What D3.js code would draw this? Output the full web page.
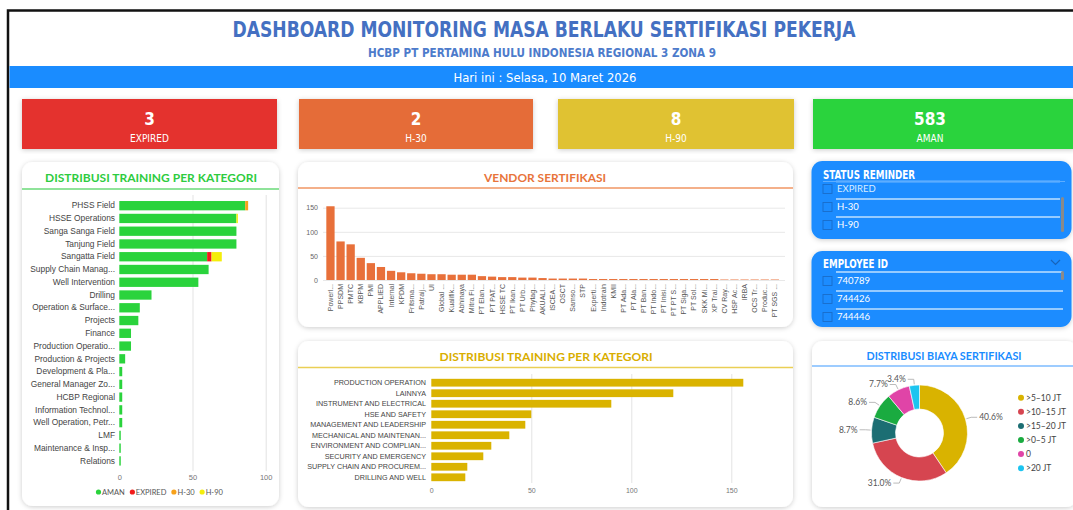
<!DOCTYPE html>
<html>
<head>
<meta charset="utf-8">
<script src="https://cdn.jsdelivr.net/npm/d3@7"></script>
<style>
  body { margin: 0; background: #fff; }
  svg { display: block; font-family: "Lato", "Open Sans", sans-serif; }
</style>
</head>
<body>
<svg id="dash" width="1073" height="510"></svg>
<script>
const W = 1073, H = 510;

// ---- data ----
const kpiLabels = ["EXPIRED", "H-30", "H-90", "AMAN"];
const kpiValues = [3, 2, 8, 583];
const kpiColors = ["#E4332F", "#E56C37", "#E0C233", "#2AD33C"];

const unitNames = ["PHSS Field", "HSSE Operations", "Sanga Sanga Field", "Tanjung Field", "Sangatta Field",
  "Supply Chain Manag...", "Well Intervention", "Drilling", "Operation & Surface...", "Projects", "Finance",
  "Production Operatio...", "Production & Projects", "Development & Pla...", "General Manager Zo...",
  "HCBP Regional", "Information Technol...", "Well Operation, Petr...", "LMF", "Maintenance & Insp...", "Relations"];
const unitAman    = [86, 80, 80, 80, 60, 61, 54, 22, 14, 13, 8, 8, 4, 2, 2, 2, 2, 2, 1, 1, 1];
const unitExpired = [0, 0, 0, 0, 3, 0, 0, 0, 0, 0, 0, 0, 0, 0, 0, 0, 0, 0, 0, 0, 0];
const unitH30     = [2, 0, 0, 0, 0, 0, 0, 0, 0, 0, 0, 0, 0, 0, 0, 0, 0, 0, 0, 0, 0];
const unitH90     = [0, 1, 0, 0, 7, 0, 0, 0, 0, 0, 0, 0, 0, 0, 0, 0, 0, 0, 0, 0, 0];
const statusKeys = ["AMAN", "EXPIRED", "H-30", "H-90"];
const statusColors = ["#2AD33C", "#F21B1B", "#F7A11A", "#F4EE0A"];

const vendorNames = ["Powerl...", "PPSDM", "PMTC", "KBPM", "PMI", "APPLIED", "Internal", "KPDM", "Fritsma...",
  "Patraij...", "UI", "Global ...", "Kualifik...", "Abhinaya", "Mitra Fi...", "PT Elan...", "PT PAT...", "HSSE TC",
  "PT Ikan...", "PT Urb...", "Phytag...", "AKUALI...", "ISCEA...", "OSCT", "Samso...", "STP", "Experti...",
  "Indotrain", "KMII", "PT Ada...", "PT Ala...", "PT Ban...", "PT Indo...", "PT Inisi...", "PT PT S...",
  "PT Siga...", "PT Sol...", "SKK Mi...", "XP Trai...", "CV Ray...", "HSP Ac...", "IRBA", "OCS Tr...",
  "Produc...", "PT SGS ..."];
const vendorCounts = [153, 80, 74, 46, 35, 27, 19, 16, 14, 13, 12, 12, 11, 11, 11, 8, 7, 6, 6, 5, 5,
  4, 3, 3, 3, 3, 2, 2, 2, 2, 2, 2, 2, 2, 2, 2, 2, 2, 2, 1, 1, 1, 1, 1, 1];

const trainingCategories = ["PRODUCTION OPERATION", "LAINNYA", "INSTRUMENT AND ELECTRICAL", "HSE AND SAFETY",
  "MANAGEMENT AND LEADERSHIP", "MECHANICAL AND MAINTENAN...", "ENVIRONMENT AND COMPLIAN...",
  "SECURITY AND EMERGENCY", "SUPPLY CHAIN AND PROCUREM...", "DRILLING AND WELL"];
const trainingCounts = [156, 121, 90, 50, 47, 39, 30, 26, 18, 17];

const costBands = [">5–10 JT", ">10–15 JT", ">15–20 JT", ">0–5 JT", "0", ">20 JT"];
const costShares = [40.6, 31.0, 8.7, 8.6, 7.7, 3.4];
const costColors = ["#D9B300", "#D64550", "#1C6E73", "#1AAB40", "#E044A7", "#1CC4F0"];

const reminderItems = ["EXPIRED", "H-30", "H-90"];
const employeeIds = ["740789", "744426", "744446"];

const condensed = "'Liberation Sans Narrow', 'DejaVu Sans Condensed', 'Roboto', sans-serif";

const svg = d3.select("#dash");
const defs = svg.append("defs");
const shadow = defs.append("filter").attr("id", "shadow")
  .attr("x", "-10%").attr("y", "-10%").attr("width", "120%").attr("height", "120%");
shadow.append("feDropShadow").attr("dx", 0).attr("dy", 1).attr("stdDeviation", 2.5)
  .attr("flood-color", "#000").attr("flood-opacity", 0.2);

function txt(parent, x, y, s, o) {
  const t = parent.append("text").attr("x", x).attr("y", y).attr("dy", "0.35em").text(s)
    .attr("text-anchor", o.anchor || "middle")
    .attr("fill", o.color || "#333")
    .style("font-size", o.size + "px")
    .style("font-weight", o.weight || "normal");
  if (o.family) t.style("font-family", o.family);
  if (o.len) t.attr("textLength", o.len).attr("lengthAdjust", "spacingAndGlyphs");
  return t;
}

function card(x, y, w, h, fill) {
  return svg.append("rect").attr("x", x).attr("y", y).attr("width", w).attr("height", h)
    .attr("rx", 11).attr("fill", fill || "#fff").attr("filter", "url(#shadow)");
}

// frame + header
svg.append("rect").attr("x", 8).attr("y", 10.5).attr("width", W).attr("height", H)
  .attr("fill", "#fff").attr("stroke", "#111").attr("stroke-width", 2.5);
txt(svg, 544, 30, "DASHBOARD MONITORING MASA BERLAKU SERTIFIKASI PEKERJA",
  { size: 21, weight: "bold", color: "#4470C2", family: condensed, len: 623 });
txt(svg, 542, 53, "HCBP PT PERTAMINA HULU INDONESIA REGIONAL 3 ZONA 9",
  { size: 12, weight: "bold", color: "#4D7BCB", family: condensed, len: 348 });
svg.append("rect").attr("x", 9.5).attr("y", 66).attr("width", W).attr("height", 22).attr("fill", "#1A8CFF");
txt(svg, 545, 77, "Hari ini : Selasa, 10 Maret 2026",
  { size: 13, color: "#fff", family: condensed, len: 183 });

// KPI cards
const kpiX = [22, 299, 558, 813], kpiW = [255, 234, 236, 262];
kpiLabels.forEach((lab, i) => {
  svg.append("rect").attr("x", kpiX[i]).attr("y", 99).attr("width", kpiW[i]).attr("height", 50)
    .attr("fill", kpiColors[i]).attr("filter", "url(#shadow)");
  const cx = kpiX[i] + (i === 3 ? 117 : kpiW[i] / 2);
  txt(svg, cx, 119, kpiValues[i], { size: 17, weight: "bold", color: "#fff", family: condensed });
  txt(svg, cx, 138, lab, { size: 10, color: "#fff", family: condensed });
});

// ---- left: training per unit (stacked) ----
card(22, 162, 257, 344);
txt(svg, 151, 178, "DISTRIBUSI TRAINING PER KATEGORI", { size: 12, weight: "bold", color: "#2ECC40", len: 212 });
svg.append("line").attr("x1", 22).attr("x2", 279).attr("y1", 189).attr("y2", 189)
  .attr("stroke", "#8FE39A").attr("stroke-width", 2);

const unitRows = unitNames.map((name, i) => ({
  name, "AMAN": unitAman[i], "EXPIRED": unitExpired[i], "H-30": unitH30[i], "H-90": unitH90[i]
}));
const unitStack = d3.stack().keys(statusKeys)(unitRows);
const ux = d3.scaleLinear().domain([0, 100]).range([119.3, 265.7]);
const uy = d3.scaleBand().domain(unitNames).range([199.3, 467.3]).paddingInner(0.27).paddingOuter(0.135);

const uGrid = svg.append("g").attr("transform", "translate(0,471)")
  .call(d3.axisBottom(ux).tickValues([0, 50, 100]).tickSize(-276).tickPadding(4));
uGrid.select(".domain").remove();
uGrid.selectAll("line").attr("stroke", d => d === 0 ? "none" : "#e3e3e3");
uGrid.selectAll("text").attr("fill", "#777").style("font-size", "7.5px");

svg.append("g").selectAll("g").data(unitStack).join("g")
  .attr("fill", (d, i) => statusColors[i])
  .selectAll("rect").data(d => d).join("rect")
  .attr("x", d => ux(d[0])).attr("width", d => ux(d[1]) - ux(d[0]))
  .attr("y", d => uy(d.data.name)).attr("height", uy.bandwidth());

const uLab = svg.append("g").attr("transform", "translate(119,0)")
  .call(d3.axisLeft(uy).tickSize(0).tickPadding(4));
uLab.select(".domain").remove();
uLab.selectAll("text").attr("fill", "#444").style("font-size", "8.4px");

// legend
const uLeg = svg.append("g");
let lx = 96;
statusKeys.forEach((k, i) => {
  uLeg.append("circle").attr("cx", lx + 2.5).attr("cy", 492).attr("r", 2.6).attr("fill", statusColors[i]);
  const t = txt(uLeg, lx + 6, 492, k, { size: 7.5, color: "#555", anchor: "start" });
  lx += 6 + t.node().getComputedTextLength() + 5;
});

// ---- vendor chart ----
card(298, 162, 495, 165);
txt(svg, 545, 177.5, "VENDOR SERTIFIKASI", { size: 12, weight: "bold", color: "#E8743B", len: 122 });
svg.append("line").attr("x1", 298).attr("x2", 793).attr("y1", 188).attr("y2", 188)
  .attr("stroke", "#F4B08A").attr("stroke-width", 2);

const vx = d3.scaleBand().domain(vendorNames).range([324.5, 780.8]).padding(0.18);
const vy = d3.scaleLinear().domain([0, 150]).range([280, 207.7]);

const vGrid = svg.append("g").attr("transform", "translate(323,0)")
  .call(d3.axisLeft(vy).tickValues([0, 50, 100, 150]).tickSize(-462).tickPadding(5));
vGrid.select(".domain").remove();
vGrid.selectAll("line").attr("stroke", "#e8e8e8");
vGrid.selectAll("text").attr("fill", "#666").style("font-size", "7px");

svg.append("g").selectAll("rect").data(vendorNames).join("rect")
  .attr("x", d => vx(d)).attr("width", vx.bandwidth())
  .attr("y", (d, i) => vy(vendorCounts[i])).attr("height", (d, i) => vy(0) - vy(vendorCounts[i]))
  .attr("fill", "#E8703A");

const vLab = svg.append("g").attr("transform", "translate(0,280)")
  .call(d3.axisBottom(vx).tickSize(0).tickPadding(3));
vLab.select(".domain").remove();
vLab.selectAll("text")
  .attr("transform", "rotate(-90)").attr("x", -4).attr("y", 0).attr("dy", "0.35em")
  .style("text-anchor", "end").attr("fill", "#555").style("font-size", "7px");

// ---- training per category (bottom middle) ----
card(298, 341, 495, 166);
txt(svg, 546, 357, "DISTRIBUSI TRAINING PER KATEGORI", { size: 12, weight: "bold", color: "#D9AE00", len: 213 });
svg.append("line").attr("x1", 298).attr("x2", 793).attr("y1", 367.5).attr("y2", 367.5)
  .attr("stroke", "#EACF55").attr("stroke-width", 1.6);

const tx = d3.scaleLinear().domain([0, 150]).range([431.3, 731.3]);
const ty = d3.scaleBand().domain(trainingCategories).range([377.45, 482.55]).paddingInner(0.26).paddingOuter(0.13);

const tGrid = svg.append("g").attr("transform", "translate(0,483)")
  .call(d3.axisBottom(tx).tickValues([0, 50, 100, 150]).tickSize(-109).tickPadding(5));
tGrid.select(".domain").remove();
tGrid.selectAll("line").attr("stroke", d => d === 0 ? "none" : "#e3e3e3");
tGrid.selectAll("text").attr("fill", "#777").style("font-size", "7px");

svg.append("g").selectAll("rect").data(trainingCategories).join("rect")
  .attr("x", tx(0)).attr("width", (d, i) => tx(trainingCounts[i]) - tx(0))
  .attr("y", d => ty(d)).attr("height", ty.bandwidth())
  .attr("fill", "#DAB300");

const tLab = svg.append("g").attr("transform", "translate(429,0)")
  .call(d3.axisLeft(ty).tickSize(0).tickPadding(3));
tLab.select(".domain").remove();
tLab.selectAll("text").attr("fill", "#444").style("font-size", "7.2px");

// ---- slicers ----
function slicer(y, h, title, items, opts) {
  card(811.5, y, 260, h, "#1A8CFF");
  txt(svg, 823, y + opts.titleY, title, { size: 12, weight: "bold", color: "#fff", anchor: "start", family: condensed, len: opts.titleLen });
  opts.lines.forEach(ly => {
    svg.append("line").attr("x1", opts.lineX).attr("x2", opts.lineX2).attr("y1", y + ly).attr("y2", y + ly)
      .attr("stroke", "#BFE0FF").attr("stroke-width", 1.6);
  });
  items.forEach((it, i) => {
    const iy = y + opts.itemY + i * opts.step;
    svg.append("rect").attr("x", 823).attr("y", iy - 4.5).attr("width", 9).attr("height", 9)
      .attr("fill", "none").attr("stroke", "rgba(20,50,100,0.35)").attr("stroke-width", 0.9);
    txt(svg, 837, iy, it, { size: 9.5, color: i === 0 && opts.dimFirst ? "#D9ECFF" : "#fff", anchor: "start" });
  });
  svg.append("rect").attr("x", 1061).attr("y", y + opts.scroll[0]).attr("width", 3).attr("height", opts.scroll[1])
    .attr("rx", 1.5).attr("fill", "#8a8a8a");
}
slicer(161, 78, "STATUS REMINDER", reminderItems,
  { titleY: 14, titleLen: 92, lines: [20.5, 38, 56], lineX: 836, lineX2: 1060, itemY: 28, step: 18,
    scroll: [36, 35], dimFirst: true });
svg.append("line").attr("x1", 823).attr("x2", 1065).attr("y1", 181.5).attr("y2", 181.5)
  .attr("stroke", "#5DADFF").attr("stroke-width", 1);
slicer(251, 76, "EMPLOYEE ID", employeeIds,
  { titleY: 13, titleLen: 65, lines: [21, 40, 58], lineX: 836, lineX2: 1063, itemY: 30, step: 18,
    scroll: [20, 9], dimFirst: false });
svg.append("path").attr("d", "M1051,260 L1055.5,264.5 L1060,260").attr("fill", "none")
  .attr("stroke", "rgba(20,50,100,0.45)").attr("stroke-width", 1.2);

// ---- donut ----
card(812, 341, 265, 166);
txt(svg, 944, 356.5, "DISTRIBUSI BIAYA SERTIFIKASI", { size: 10.5, weight: "bold", color: "#1A8CFF", len: 155 });
svg.append("line").attr("x1", 812).attr("x2", 1073).attr("y1", 366).attr("y2", 366)
  .attr("stroke", "#7DBBFF").attr("stroke-width", 1.6);

const cx = 919.5, cy = 433, rOut = 48, rIn = 24;
const pie = d3.pie().sort(null).value(d => d)(costShares);
const arc = d3.arc().innerRadius(rIn).outerRadius(rOut);
const dg = svg.append("g").attr("transform", `translate(${cx},${cy})`);
dg.selectAll("path").data(pie).join("path").attr("d", arc)
  .attr("fill", (d, i) => costColors[i]).attr("stroke", "#fff").attr("stroke-width", 0.6);

pie.forEach((p, i) => {
  const a = (p.startAngle + p.endAngle) / 2;
  const p0 = [Math.sin(a) * (rOut + 1), -Math.cos(a) * (rOut + 1)];
  const p1 = [Math.sin(a) * (rOut + 6), -Math.cos(a) * (rOut + 6)];
  const right = Math.sin(a) > 0;
  const p2 = [p1[0] + (right ? 6 : -6), p1[1]];
  dg.append("polyline").attr("points", [p0, p1, p2].map(q => q.join(",")).join(" "))
    .attr("fill", "none").attr("stroke", "#aaa").attr("stroke-width", 0.8);
  txt(dg, p2[0] + (right ? 2 : -2), p2[1], costShares[i].toFixed(1) + "%",
    { size: 8.5, color: "#555", anchor: right ? "start" : "end" });
});

const lg = svg.append("g");
costBands.forEach((b, i) => {
  const ly = 397.7 + i * 14.1;
  lg.append("circle").attr("cx", 1021).attr("cy", ly).attr("r", 3).attr("fill", costColors[i]);
  txt(lg, 1026, ly, b, { size: 8.5, color: "#444", anchor: "start" });
});
</script>
</body>
</html>
